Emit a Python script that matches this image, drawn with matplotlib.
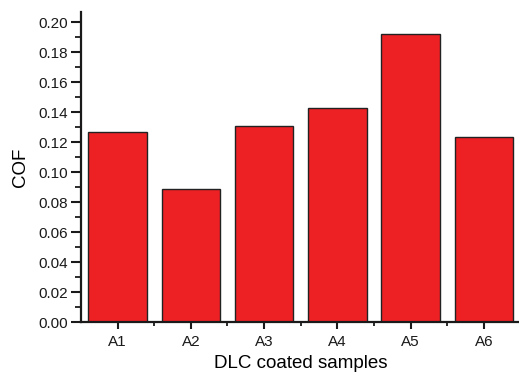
import matplotlib
matplotlib.use("Agg")
import matplotlib.pyplot as plt
from matplotlib.ticker import MultipleLocator, FixedLocator

samples = ["A1", "A2", "A3", "A4", "A5", "A6"]
cof = [0.1265, 0.0885, 0.1305, 0.1425, 0.1918, 0.1236]

plt.rcParams["font.family"] = ["Liberation Sans", "DejaVu Sans"]

fig = plt.figure(figsize=(5.19, 3.75), dpi=100)
ax = fig.add_axes([0.156, 0.1413, 0.847, 0.8275])

pos = list(range(1, len(samples) + 1))
ax.bar(pos, cof, width=0.8, color="#ed2024", edgecolor="#222222", linewidth=1.0, zorder=2)

ax.set_xlim(0.5, 6.5)
ax.set_ylim(0, 0.207)
ax.set_xticks(pos)
ax.set_xticklabels(samples)
ax.xaxis.set_minor_locator(FixedLocator([p + 0.5 for p in pos[:-1]]))
ax.yaxis.set_major_locator(MultipleLocator(0.02))
ax.yaxis.set_minor_locator(MultipleLocator(0.01))
ax.yaxis.set_major_formatter(matplotlib.ticker.FormatStrFormatter("%.2f"))

for s in ["top", "right"]:
    ax.spines[s].set_visible(False)
for s in ["left", "bottom"]:
    ax.spines[s].set_linewidth(1.6)
    ax.spines[s].set_color("#1a1a1a")

ax.tick_params(axis="y", which="major", length=7, width=1.5, labelsize=11, pad=2, colors="#1a1a1a")
ax.tick_params(axis="y", which="minor", length=4, width=1.3, colors="#1a1a1a")
ax.tick_params(axis="x", which="major", length=5, width=1.5, labelsize=11, pad=4, colors="#1a1a1a")
ax.tick_params(axis="x", which="minor", length=3, width=1.3, colors="#1a1a1a")

ax.set_xlabel("DLC coated samples", fontsize=13.5, labelpad=5)
ax.set_ylabel("COF", fontsize=13.5, labelpad=7)

fig.savefig("out.png", dpi=100)
